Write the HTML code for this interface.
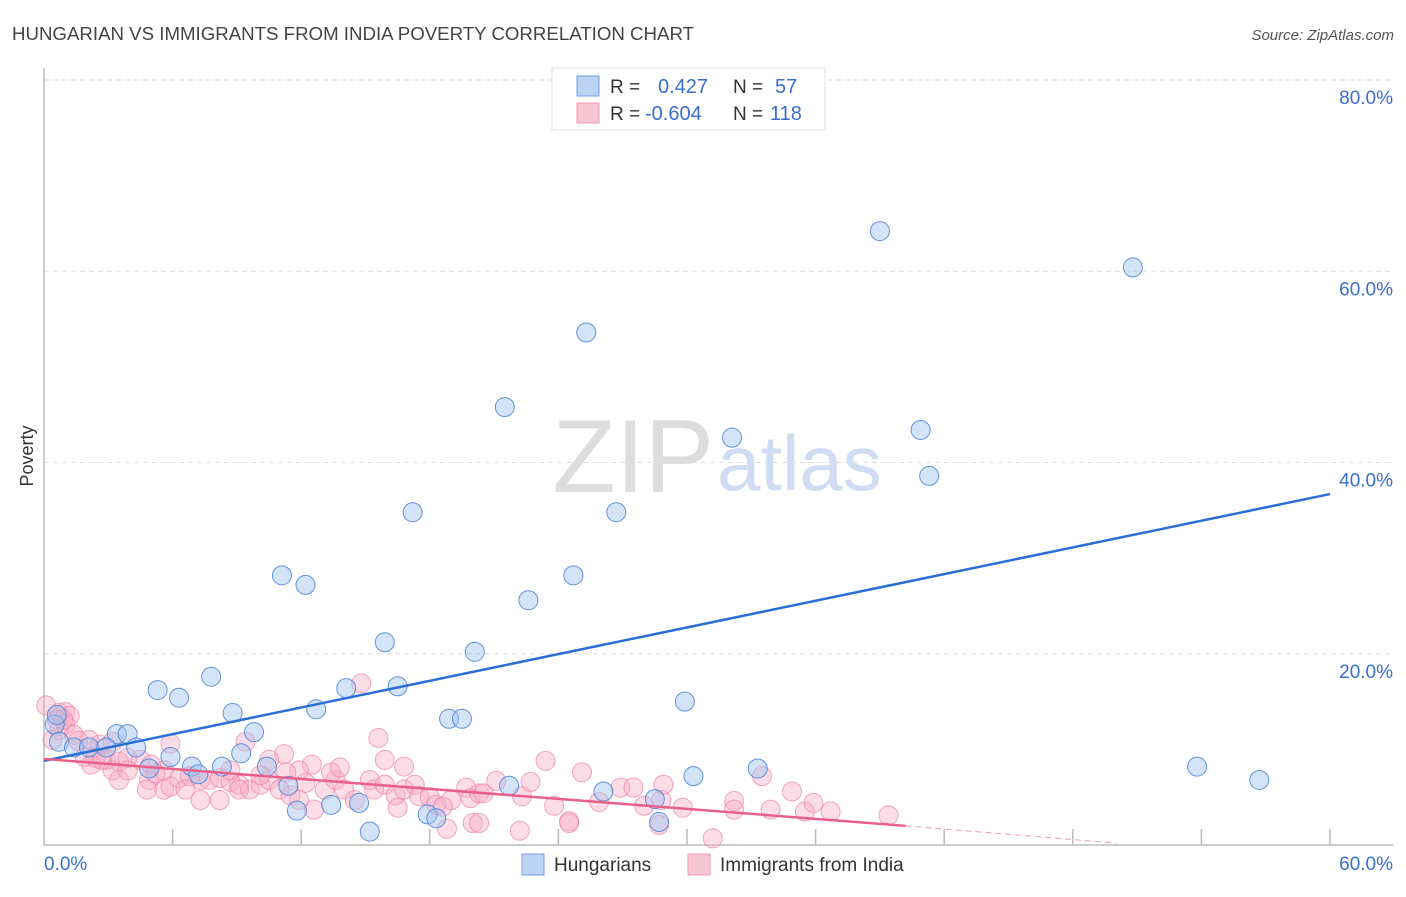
<!DOCTYPE html>
<html><head><meta charset="utf-8"><style>
body{margin:0;background:#fff;font-family:"Liberation Sans",sans-serif;}
svg text{font-family:"Liberation Sans",sans-serif;}
</style></head><body>
<svg id="chart" width="1406" height="892" xmlns="http://www.w3.org/2000/svg">
<text x="12" y="40" font-size="18" fill="#444" textLength="682" lengthAdjust="spacingAndGlyphs">HUNGARIAN VS IMMIGRANTS FROM INDIA POVERTY CORRELATION CHART</text>
<text x="1394" y="40" font-size="15" fill="#555" font-style="italic" text-anchor="end">Source: ZipAtlas.com</text>
<text x="33" y="456" font-size="18" fill="#333" text-anchor="middle" transform="rotate(-90 33 456)">Poverty</text>
<g id="grid"></g>
<text x="714" y="492" font-size="104" fill="#ddd" text-anchor="end" font-family="Liberation Serif">ZIP</text>
<text x="717" y="490" font-size="78" fill="#cfdcf2">atlas</text>
<g id="axes"></g>
<g id="pink"></g>
<g id="blue"></g>
<g id="trends"></g>
<g>
<rect x="552" y="68" width="273" height="62" fill="#fff" stroke="#ddd"/>
<rect x="577" y="76" width="22" height="20" fill="#bcd4f4" stroke="#6f9de0"/>
<rect x="577" y="103" width="22" height="20" fill="#f9c6d4" stroke="#ec9ab4"/>
<text x="610" y="93" font-size="19" fill="#333">R = </text><text x="658" y="93" font-size="20" fill="#3a6fd0">0.427</text>
<text x="733" y="93" font-size="19" fill="#333">N = </text><text x="775" y="93" font-size="20" fill="#3a6fd0">57</text>
<text x="610" y="120" font-size="19" fill="#333">R = </text><text x="645" y="120" font-size="20" fill="#3a6fd0">-0.604</text>
<text x="733" y="120" font-size="19" fill="#333">N = </text><text x="770" y="120" font-size="20" fill="#3a6fd0">118</text>
</g>
<g>
<rect x="522" y="854" width="22" height="21" fill="#bcd4f4" stroke="#6f9de0"/>
<text x="554" y="871" font-size="19" fill="#333">Hungarians</text>
<rect x="688" y="854" width="22" height="21" fill="#f9c6d4" stroke="#ec9ab4"/>
<text x="720" y="871" font-size="19" fill="#333">Immigrants from India</text>
</g>
</svg>
<script>
const blueX=[39.0,50.8,25.3,21.5,32.1,40.9,41.3,17.2,26.7,11.1,12.2,24.7,22.6,15.9,20.1,7.8,5.3,6.3,14.1,16.5,12.7,8.8,29.9,18.9,19.5,9.8,3.4,3.9,0.5,0.6,0.7,1.4,2.1,2.9,4.3,5.9,9.2,4.9,6.9,8.3,7.2,10.4,11.4,11.8,13.4,14.7,15.2,17.9,18.3,21.7,26.1,28.5,28.7,30.3,33.3,53.8,56.7];
const blueY=[64.2,60.4,53.6,45.8,42.6,43.4,38.6,34.8,34.8,28.2,27.2,28.2,25.6,21.2,20.2,17.6,16.2,15.4,16.4,16.6,14.2,13.8,15.0,13.2,13.2,11.8,11.6,11.6,12.6,13.6,10.8,10.2,10.2,10.2,10.2,9.2,9.6,8.0,8.2,8.2,7.4,8.2,6.2,3.6,4.2,4.4,1.4,3.2,2.8,6.2,5.6,4.8,2.4,7.2,8.0,8.2,6.8];
const pinkX=[0.1,0.7,1.0,1.2,1.0,0.7,1.4,2.1,2.6,3.2,1.9,2.4,2.9,3.5,3.9,4.5,5.0,5.6,3.2,3.5,3.9,4.9,5.6,4.8,5.2,5.9,6.3,6.8,7.3,7.7,8.2,8.7,9.1,9.6,10.1,10.5,11.0,11.5,11.9,12.6,13.1,13.6,14.0,14.5,15.2,15.4,15.9,16.4,16.8,17.3,9.4,11.2,12.5,13.4,13.8,14.8,15.6,15.9,16.8,17.5,18.0,18.3,19.0,19.7,19.9,20.3,20.5,21.1,22.3,22.7,23.4,23.8,24.5,24.5,25.1,25.9,26.9,27.5,28.0,28.7,28.8,28.9,29.8,31.2,32.2,32.2,33.5,33.9,34.9,35.5,35.9,36.7,39.4,20.0,18.8,20.3,22.2,18.6,16.5,12.2,11.9,10.1,8.7,7.3,8.2,9.1,10.5,11.3,5.9,6.6,0.6,0.9,0.4,1.6,2.2,2.7];
const pinkY=[14.6,13.8,13.9,13.5,12.6,12.0,11.5,11.0,10.5,10.8,9.2,9.1,8.9,8.7,9.1,8.9,8.4,7.8,7.8,6.8,7.8,6.8,5.8,5.8,7.5,10.6,7.0,7.2,6.8,6.8,7.0,6.6,6.3,5.8,6.3,6.8,5.8,5.2,4.7,3.7,5.8,6.8,5.8,4.7,6.8,5.8,6.3,5.2,5.8,6.3,10.8,9.5,8.4,7.6,8.1,16.9,11.2,8.9,8.2,5.1,5.0,4.2,4.7,6.0,4.9,5.4,5.4,6.7,5.1,6.6,8.8,4.1,2.5,2.3,7.6,4.5,6.0,6.0,4.1,2.1,4.7,6.3,3.9,0.7,4.6,3.7,7.2,3.7,5.6,3.5,4.4,3.5,3.1,2.3,1.7,2.3,1.5,4.0,3.9,6.5,7.8,7.3,7.8,4.7,4.7,5.8,8.9,7.6,6.1,5.8,13.1,13.1,11.0,10.9,8.4,8.9];
const yTicks=[20,40,60,80];
const yTickLabels=["20.0%","40.0%","60.0%","80.0%"];
const xTickVals=[6,12,18,24,30,36,42,48,54,60];
const blueTrend=[[0,8.8],[60,36.7]];
const pinkTrend=[[0,9.0],[40.2,2.0]];
const pinkDash=[[40.2,2.0],[50,0.2]];

const X0=44,X1=1330,Y0=845,Y80=80;
const sx=v=>X0+(X1-X0)*v/60;
const sy=v=>Y0-(Y0-Y80)*v/80;
const NS="http://www.w3.org/2000/svg";
function mk(tag,attrs,parent){const e=document.createElementNS(NS,tag);for(const k in attrs)e.setAttribute(k,attrs[k]);parent.appendChild(e);return e;}
const grid=document.getElementById('grid'),axes=document.getElementById('axes');
yTicks.forEach((t,i)=>{
  const g=mk('line',{x1:X0,x2:1393,y1:sy(t),y2:sy(t),stroke:'#ddd','stroke-dasharray':'5,4'},grid);
  
  
  const tx=mk('text',{x:1393,y:sy(t)+24,'font-size':19,fill:'#3a6fd0','text-anchor':'end'},axes);
  tx.textContent=yTickLabels[i];
  
  
});
mk('line',{x1:X0,x2:X0,y1:68,y2:Y0,stroke:'#bbb','stroke-width':1.5},axes);
mk('line',{x1:X0,x2:1393,y1:Y0,y2:Y0,stroke:'#bbb','stroke-width':1.5},axes);
xTickVals.forEach(t=>{const l=mk('line',{x1:sx(t),x2:sx(t),y1:Y0,y2:Y0-16,stroke:'#bbb','stroke-width':1.5},axes);
  
  });
const xl=mk('text',{x:44,y:870,'font-size':19,fill:'#3a6fd0'},axes);xl.textContent='0.0%';


const xr=mk('text',{x:1393,y:870,'font-size':19,fill:'#3a6fd0','text-anchor':'end'},axes);xr.textContent='60.0%';


const pg=document.getElementById('pink');
pinkX.forEach((x,i)=>{const c=mk('circle',{cx:sx(x),cy:sy(pinkY[i]),r:9.5,fill:'rgba(247,170,195,0.4)',stroke:'rgba(236,130,165,0.7)','stroke-width':1},pg);
  
  });
const bg=document.getElementById('blue');
blueX.forEach((x,i)=>{const c=mk('circle',{cx:sx(x),cy:sy(blueY[i]),r:9.5,fill:'rgba(160,195,240,0.45)',stroke:'rgba(70,130,215,0.85)','stroke-width':1},bg);
  
  });
const tg=document.getElementById('trends');
const bl=mk('line',{x1:sx(blueTrend[0][0]),y1:sy(blueTrend[0][1]),x2:sx(blueTrend[1][0]),y2:sy(blueTrend[1][1]),stroke:'#2a6fd6','stroke-width':2.5},tg);


const pl=mk('line',{x1:sx(pinkTrend[0][0]),y1:sy(pinkTrend[0][1]),x2:sx(pinkTrend[1][0]),y2:sy(pinkTrend[1][1]),stroke:'#e8608a','stroke-width':2.5},tg);


const pd=mk('line',{x1:sx(pinkDash[0][0]),y1:sy(pinkDash[0][1]),x2:sx(pinkDash[1][0]),y2:sy(pinkDash[1][1]),stroke:'#e8a0b8','stroke-width':1,'stroke-dasharray':'6,4'},tg);


</script>
</body></html>
